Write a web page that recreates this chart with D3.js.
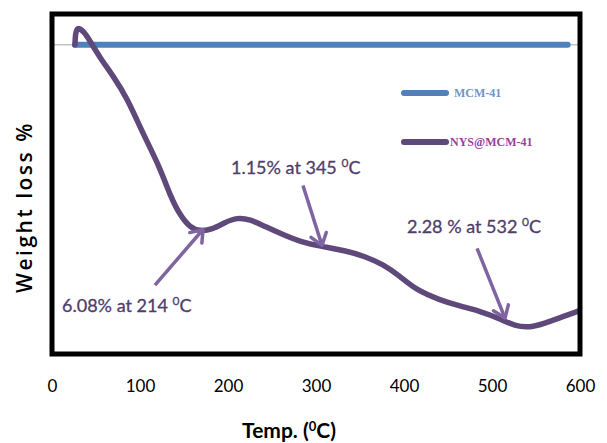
<!DOCTYPE html>
<html>
<head>
<meta charset="utf-8">
<script src="https://cdn.jsdelivr.net/npm/d3@7"></script>
<style>
  body { margin: 0; background: #fff; }
  svg { display: block; }
</style>
</head>
<body>
<div id="chart"></div>
<script>
// TGA data (temp in C, weight in %)
var mcmTemp = [26, 586];
var mcmWeight = [100, 100];

var nysTemp = [26.1, 26.6, 28.5, 31.5, 36.4, 43.2, 54.5, 69.3, 85.2, 103.4, 122.7, 134.1, 145.5, 156.8, 168.2, 181.8,
  196.6, 210.2, 225, 242, 264.8, 281.8, 304.5, 333, 355.7, 376, 395.5, 412.5, 440.9, 463.6, 486.4, 509, 526,
  543, 560, 577, 597.7];
var nysWeight = [100, 100.37, 100.55, 100.55, 100.43, 100.13, 99.57, 98.97, 98.23, 97.03, 95.9, 94.97, 94.3, 93.9, 93.77, 93.83,
  94.07, 94.23, 94.17, 93.93, 93.63, 93.43, 93.27, 93.13, 92.93, 92.67, 92.27, 91.83, 91.47, 91.27, 91.1, 90.85, 90.6,
  90.55, 90.7, 90.88, 91.1];

var xTicks = [0, 100, 200, 300, 400, 500, 600];
var seriesNames = ['MCM-41', 'NYS@MCM-41'];

// annotations: text, label anchor (temp, weight), arrow tail and head
var noteText = ['6.08% at 214 ', '1.15% at 345 ', '2.28 % at 532 '];
var noteAt = [[11.4, 91.07], [203.4, 95.7], [403.4, 93.7]];
var arrowFrom = [[117, 91.97], [285.2, 95.3], [483, 93.2]];
var arrowTo = [[171.6, 93.83], [306.8, 93.3], [514.8, 90.87]];

var width = 607, height = 443;
var margin = {top: 14, right: 27, bottom: 89, left: 52};

var svg = d3.select('#chart').append('svg')
  .attr('width', width)
  .attr('height', height);

var x = d3.scaleLinear().domain([0, 600]).range([margin.left, width - margin.right]);
var y = d3.scaleLinear().domain([89.67, 101.03]).range([height - margin.bottom, margin.top]);

// thin grey axis line through 100 %
svg.append('line')
  .attr('x1', x(0)).attr('x2', x(600))
  .attr('y1', y(100)).attr('y2', y(100))
  .attr('stroke', '#a6a6a6').attr('stroke-width', 1);

// x tick labels
var xAxis = svg.append('g')
  .attr('transform', 'translate(0,' + (height - margin.bottom) + ')')
  .call(d3.axisBottom(x).tickValues(xTicks).tickSize(0).tickPadding(26).tickFormat(d3.format('d')));
xAxis.select('.domain').remove();
xAxis.selectAll('text')
  .attr('font-family', 'Lato, sans-serif')
  .attr('font-size', 17)
  .attr('fill', '#000');

var line = d3.line()
  .x(function(d) { return x(d[0]); })
  .y(function(d) { return y(d[1]); });

svg.append('path')
  .datum(d3.zip(mcmTemp, mcmWeight))
  .attr('d', line)
  .attr('fill', 'none')
  .attr('stroke', '#4f81bd')
  .attr('stroke-width', 6)
  .attr('stroke-linecap', 'round');

svg.append('path')
  .datum(d3.zip(nysTemp, nysWeight))
  .attr('d', line.curve(d3.curveBasis))
  .attr('fill', 'none')
  .attr('stroke', '#5f497a')
  .attr('stroke-width', 5.5)
  .attr('stroke-linecap', 'round');

// frame
svg.append('rect')
  .attr('x', x(0)).attr('y', y(101.03))
  .attr('width', x(600) - x(0))
  .attr('height', y(89.67) - y(101.03))
  .attr('fill', 'none')
  .attr('stroke', '#000')
  .attr('stroke-width', 5);

// arrows
var defs = svg.append('defs');
defs.append('marker')
  .attr('id', 'head')
  .attr('viewBox', '-14 -10 16 20')
  .attr('refX', 0).attr('refY', 0)
  .attr('markerWidth', 16).attr('markerHeight', 20)
  .attr('markerUnits', 'userSpaceOnUse')
  .attr('orient', 'auto')
  .append('path')
  .attr('d', 'M-11,-8 L0,0 L-11,8')
  .attr('fill', 'none')
  .attr('stroke', '#8064a2')
  .attr('stroke-width', 3.5)
  .attr('stroke-linejoin', 'round')
  .attr('stroke-linecap', 'round');

svg.selectAll('.arrow')
  .data(d3.range(arrowFrom.length))
  .enter().append('line')
  .attr('class', 'arrow')
  .attr('x1', function(i) { return x(arrowFrom[i][0]); })
  .attr('y1', function(i) { return y(arrowFrom[i][1]); })
  .attr('x2', function(i) { return x(arrowTo[i][0]); })
  .attr('y2', function(i) { return y(arrowTo[i][1]); })
  .attr('stroke', '#8064a2')
  .attr('stroke-width', 3.5)
  .attr('marker-end', 'url(#head)');

// annotation labels
var notes = svg.selectAll('.note')
  .data(d3.range(noteText.length))
  .enter().append('text')
  .attr('class', 'note')
  .attr('x', function(i) { return x(noteAt[i][0]); })
  .attr('y', function(i) { return y(noteAt[i][1]); })
  .attr('font-family', 'Lato, sans-serif')
  .attr('font-size', 18)
  .attr('fill', '#4f3d6b')
  .attr('stroke', '#4f3d6b')
  .attr('stroke-width', 0.3);
notes.append('tspan').text(function(i) { return noteText[i]; });
notes.append('tspan').attr('dy', -7).attr('font-size', 12).text('0');
notes.append('tspan').attr('dy', 7).text('C');

// legend
var legendColors = ['#4f81bd', '#5f497a'];
var legendText = ['#6f95cc', '#9a3fa0'];
var leg = svg.selectAll('.leg')
  .data(seriesNames)
  .enter().append('g')
  .attr('class', 'leg')
  .attr('transform', function(d, i) { return 'translate(404,' + (93 + i * 49) + ')'; });
leg.append('line')
  .attr('x1', 0).attr('x2', 42)
  .attr('stroke', function(d, i) { return legendColors[i]; })
  .attr('stroke-width', 6)
  .attr('stroke-linecap', 'round');
leg.append('text')
  .attr('x', function(d, i) { return i === 0 ? 50 : 46; })
  .attr('y', 4)
  .attr('font-family', 'Liberation Serif, serif')
  .attr('font-weight', 'bold')
  .attr('font-size', 12)
  .attr('fill', function(d, i) { return legendText[i]; })
  .text(function(d) { return d; });

// axis titles
svg.append('text')
  .attr('transform', 'translate(32,207) rotate(-90)')
  .attr('text-anchor', 'middle')
  .attr('font-family', 'Open Sans, sans-serif')
  .attr('font-weight', 600)
  .attr('font-size', 21)
  .attr('letter-spacing', 2.5)
  .attr('fill', '#000')
  .text('Weight loss %');

var xt = svg.append('text')
  .attr('x', 289).attr('y', 438)
  .attr('text-anchor', 'middle')
  .attr('font-family', 'Lato, sans-serif')
  .attr('font-weight', 'bold')
  .attr('font-size', 21)
  .attr('fill', '#000');
xt.append('tspan').text('Temp. (');
xt.append('tspan').attr('dy', -7).attr('font-size', 13).text('0');
xt.append('tspan').attr('dy', 7).text('C)');
</script>
</body>
</html>
